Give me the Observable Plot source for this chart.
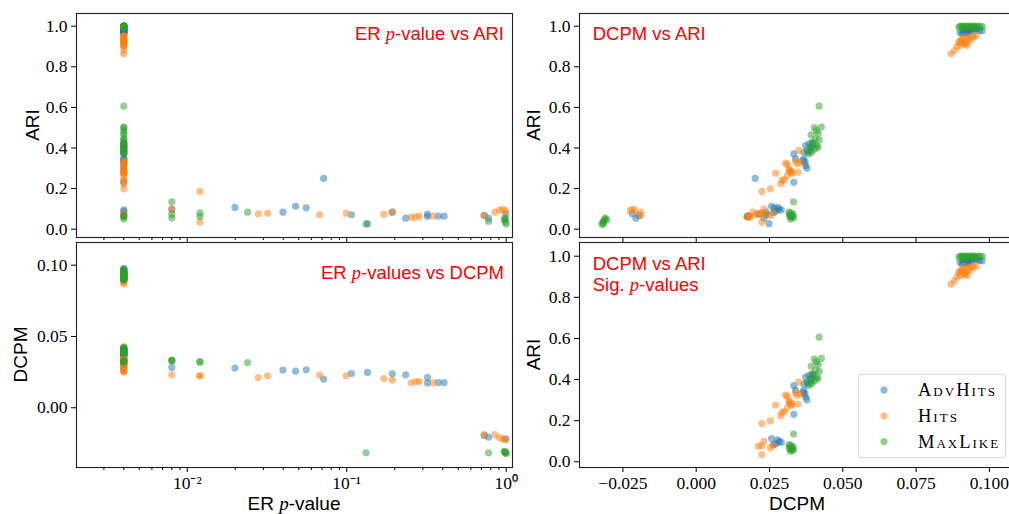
<!DOCTYPE html>
<html><head><meta charset="utf-8">
<script src="https://cdn.jsdelivr.net/npm/d3@7"></script>
<script src="https://cdn.jsdelivr.net/npm/@observablehq/plot@0.6"></script>
<style>
html,body{margin:0;padding:0;background:#fff;overflow:hidden;}
#fig{position:relative;width:1009px;height:514px;overflow:hidden;background:#fff;}
.panel{position:absolute;}
</style></head><body><div id="fig"></div>
<script>
const methods = ["AdvHits", "Hits", "MaxLike"];
const methodColors = ["#1f77b4", "#ff7f0e", "#2ca02c"];

// AdvHits
const advP = [0.004,0.004,0.004,0.004,0.004,0.004,0.004,0.004,0.004,0.004,0.004,0.004,0.004,0.004,0.004,0.004,0.004,
  0.004,0.004,0.004,0.004,0.004,0.004,0.004,0.004,0.004,0.004,0.004,0.004,0.004,0.004,0.004,0.004,
  0.008,0.0199,0.0398,0.0478,0.0557,0.0716,0.107,0.135,0.193,0.234,0.321,0.321,0.375,0.408,0.73,0.775,0.995];
const advDCPM = [0.0290,0.0272,
  0.0333,0.0333,0.0339,0.0367,0.0364,0.0373,0.0378,0.0371,0.0367,0.0390,0.0373,0.0385,0.0396,0.0381,0.0392,
  0.0900,0.0906,0.0911,0.0914,0.0921,0.0926,0.0929,0.0936,0.0941,0.0944,0.0952,0.0957,0.0966,0.0975,0.0928,0.0938,
  0.0283,0.0278,0.0264,0.0257,0.0266,0.0201,0.0240,0.0248,0.0238,0.0231,0.0212,0.0173,0.0177,0.0177,-0.0195,-0.0206,-0.0218];
const advARI = [0.095,0.088,
  0.231,0.371,0.347,0.347,0.338,0.314,0.300,0.330,0.379,0.388,0.412,0.420,0.424,0.380,0.402,
  0.970,0.964,0.975,0.968,0.972,0.981,0.975,0.985,0.978,0.990,0.982,0.986,0.979,0.977,0.962,0.994,
  0.098,0.107,0.084,0.113,0.105,0.250,0.071,0.027,0.084,0.054,0.074,0.062,0.064,0.064,0.068,0.054,0.076];

// Hits
const hitsP = [0.004,0.004,0.004,0.004,0.004,0.004,0.004,0.004,0.004,0.004,0.004,0.004,0.004,0.004,0.004,0.004,0.004,0.004,0.004,
  0.004,0.004,0.004,0.004,0.004,0.004,0.004,0.004,0.004,0.004,0.004,0.004,0.004,0.004,0.004,0.004,0.004,0.004,0.004,
  0.008,0.012,0.012,0.0279,0.0319,0.0676,0.0993,0.171,0.193,0.254,0.271,0.285,0.347,0.724,0.849,0.908,0.953,0.99];
const hitsDCPM = [0.0253,0.0262,
  0.0253,0.0288,0.0300,0.0293,0.0311,0.0271,0.0327,0.0347,0.0316,0.0322,0.0305,0.0311,0.0345,0.0339,0.0356,0.0350,0.0318,0.0325,
  0.0869,0.0881,0.0890,0.0895,0.0901,0.0905,0.0907,0.0912,0.0918,0.0922,0.0924,0.0928,0.0935,0.0940,0.0946,0.0955,0.0915,0.0900,
  0.0231,0.0224,0.0224,0.0212,0.0224,0.0229,0.0224,0.0205,0.0194,0.0175,0.0184,0.0184,0.0175,-0.0189,-0.0189,-0.0210,-0.0218,-0.0225];
const hitsARI = [0.068,0.080,
  0.199,0.223,0.243,0.240,0.264,0.276,0.281,0.281,0.297,0.289,0.325,0.318,0.322,0.335,0.330,0.388,0.285,0.275,
  0.864,0.880,0.900,0.921,0.905,0.930,0.938,0.915,0.913,0.925,0.905,0.940,0.930,0.950,0.946,0.954,0.950,0.925,
  0.100,0.186,0.035,0.076,0.079,0.071,0.079,0.074,0.084,0.059,0.059,0.064,0.064,0.067,0.084,0.094,0.098,0.090];

// MaxLike
const mlP = [0.004,0.004,0.004,0.004,0.004,0.004,0.004,0.004,0.004,0.004,0.004,0.004,0.004,0.004,0.004,0.004,0.004,0.004,0.004,0.004,
  0.004,0.004,0.004,0.004,0.004,0.004,0.004,0.004,0.004,0.004,0.004,0.004,0.004,0.004,0.004,0.004,0.004,0.004,0.004,
  0.008,0.008,0.008,0.012,0.012,0.0239,0.132,0.775,0.97,0.98,0.99,0.995,1.0];
const mlDCPM = [0.0318,0.0325,0.0322,0.0330,
  0.0419,0.0403,0.0427,0.0410,0.0392,0.0416,0.0407,0.0396,0.0401,0.0412,0.0415,0.0390,0.0378,0.0384,0.0395,0.0405,0.0420,
  0.0896,0.0901,0.0907,0.0909,0.0916,0.0919,0.0924,0.0931,0.0934,0.0941,0.0946,0.0949,0.0956,0.0961,0.0968,0.0976,0.0912,0.0938,
  0.0332,0.0330,0.0332,0.0323,0.0320,0.0316,-0.0316,-0.0316,-0.0305,-0.0310,-0.0318,-0.0312,-0.0322];
const mlARI = [0.070,0.060,0.050,0.065,
  0.606,0.500,0.503,0.486,0.465,0.473,0.445,0.429,0.420,0.412,0.404,0.404,0.388,0.371,0.380,0.395,0.440,
  0.995,1.000,0.998,1.000,0.996,1.000,0.999,1.000,0.997,1.000,0.998,1.000,0.996,1.000,0.999,0.998,0.990,0.993,
  0.135,0.074,0.056,0.080,0.062,0.084,0.025,0.038,0.045,0.055,0.035,0.050,0.025];

// Ticks
const ariTicks = [0, 0.2, 0.4, 0.6, 0.8, 1.0];
const dcpmTicksY = [0, 0.05, 0.10];
const dcpmTicksX = [-0.025, 0, 0.025, 0.05, 0.075, 0.1];
const pMajorTicks = [0.01, 0.1, 1];
const pMinorTicks = [0.003,0.004,0.005,0.006,0.007,0.008,0.009,0.02,0.03,0.04,0.05,0.06,0.07,0.08,0.09,0.2,0.3,0.4,0.5,0.6,0.7,0.8,0.9];
const sigLevel = 0.05;

const rows = (name, P, D, A) => P.map((p, i) => ({method: name, p, dcpm: D[i], ari: A[i]}));
const data = [
  ...rows("AdvHits", advP, advDCPM, advARI),
  ...rows("Hits", hitsP, hitsDCPM, hitsARI),
  ...rows("MaxLike", mlP, mlDCPM, mlARI)
];
const sigData = data.filter(d => d.p < sigLevel);

const serif = "'Liberation Serif','Times New Roman',serif";
const sans = "'Liberation Sans',Arial,sans-serif";
const color = {domain: methods, range: methodColors};
const dotOpts = {fill: "method", r: 3.6, fillOpacity: 0.5};
const svgStyle = `background: transparent; overflow: visible; max-width: none; font-size: 17.5px; color: black;`;
const sup = {"-": "\u207B", "0": "\u2070", "1": "\u00B9", "2": "\u00B2", "3": "\u00B3"};
const logFmt = d => "10" + String(Math.round(Math.log10(d))).split("").map(c => sup[c]).join("");
const none = () => "";
const frame = () => Plot.frame({stroke: "#222", strokeWidth: 1.1});
const fig = document.getElementById("fig");

function place(svg, left, top) {
  d3.select(svg).selectAll("text").style("font-family", serif).style("font-size", "17.5px");
  const div = document.createElement("div");
  div.className = "panel";
  div.style.left = left + "px";
  div.style.top = top + "px";
  div.append(svg);
  fig.append(div);
}

function richText(svg, x, y, parts, o = {}) {
  const t = d3.select(svg).append("text")
    .attr("x", x).attr("y", y)
    .attr("text-anchor", o.anchor || "start")
    .attr("fill", o.fill || "black")
    .style("font-family", o.family || sans)
    .style("font-size", (o.size || 19) + "px");
  if (o.rotate) t.attr("transform", `rotate(${o.rotate},${x},${y})`);
  if (o.variant) t.style("font-variant", o.variant);
  if (o.spacing) t.style("letter-spacing", o.spacing);
  for (const [s, it] of parts) {
    const ts = t.append("tspan").text(s);
    if (it) ts.style("font-family", serif).style("font-style", "italic");
  }
}

const pDomain = [0.00202, 1.095];
const dcpmXDomain = [-0.0398, 0.1089];

// Top-left: ER p-value vs ARI
const tl = Plot.plot({
  width: 520, height: 250, marginLeft: 76, marginTop: 13, marginRight: 8, marginBottom: 13,
  x: {type: "log", domain: pDomain}, y: {domain: [-0.041, 1.0626]}, color, style: svgStyle,
  marks: [
    Plot.dot(data, {x: "p", y: "ari", ...dotOpts}),
    frame(),
    Plot.axisY({ticks: ariTicks, tickFormat: d3.format(".1f"), tickSize: 5, tickPadding: 4, label: null}),
    Plot.axisX({ticks: pMajorTicks, tickFormat: none, tickSize: 5, label: null}),
    Plot.axisX({ticks: pMinorTicks, tickFormat: none, tickSize: 3, label: null})
  ]
});
place(tl, 0, 0);
richText(tl, 39, 125, [["ARI", false]], {anchor: "middle", rotate: -90});
richText(tl, 504, 39.5, [["ER ", false], ["p", true], ["-value vs ARI", false]], {anchor: "end", fill: "#ff0000", size: 18.5});

// Bottom-left: ER p-values vs DCPM
const bl = Plot.plot({
  width: 520, height: 284, marginLeft: 76, marginTop: 12, marginRight: 8, marginBottom: 47,
  x: {type: "log", domain: pDomain}, y: {domain: [-0.0419, 0.1159]}, color, style: svgStyle,
  marks: [
    Plot.dot(data, {x: "p", y: "dcpm", ...dotOpts}),
    frame(),
    Plot.axisY({ticks: dcpmTicksY, tickFormat: d3.format(".2f"), tickSize: 5, tickPadding: 4, label: null}),
    Plot.axisX({ticks: pMajorTicks, tickFormat: logFmt, tickSize: 5, tickPadding: 4, label: null}),
    Plot.axisX({ticks: pMinorTicks, tickFormat: none, tickSize: 3, label: null})
  ]
});
place(bl, 0, 230);
richText(bl, 27, 124.5, [["DCPM", false]], {anchor: "middle", rotate: -90});
richText(bl, 294, 280, [["ER ", false], ["p", true], ["-value", false]], {anchor: "middle"});
richText(bl, 504, 49.3, [["ER ", false], ["p", true], ["-values vs DCPM", false]], {anchor: "end", fill: "#ff0000", size: 18.5});

// Top-right: DCPM vs ARI
const tr = Plot.plot({
  width: 520, height: 250, marginLeft: 79, marginTop: 13, marginRight: 5, marginBottom: 13,
  x: {domain: dcpmXDomain}, y: {domain: [-0.041, 1.0626]}, color, style: svgStyle,
  marks: [
    Plot.dot(data, {x: "dcpm", y: "ari", ...dotOpts}),
    frame(),
    Plot.axisY({ticks: ariTicks, tickFormat: d3.format(".1f"), tickSize: 5, tickPadding: 4, label: null}),
    Plot.axisX({ticks: dcpmTicksX, tickFormat: none, tickSize: 5, label: null})
  ]
});
place(tr, 500, 0);
richText(tr, 40, 125, [["ARI", false]], {anchor: "middle", rotate: -90});
richText(tr, 92.7, 40, [["DCPM vs ARI", false]], {fill: "#ff0000", size: 18.5});

// Bottom-right: DCPM vs ARI, significant p-values
const br = Plot.plot({
  width: 520, height: 284, marginLeft: 79, marginTop: 12, marginRight: 5, marginBottom: 47,
  x: {domain: dcpmXDomain}, y: {domain: [-0.0277, 1.0666]}, color, style: svgStyle,
  marks: [
    Plot.dot(sigData, {x: "dcpm", y: "ari", ...dotOpts}),
    frame(),
    Plot.axisY({ticks: ariTicks, tickFormat: d3.format(".1f"), tickSize: 5, tickPadding: 4, label: null}),
    Plot.axisX({ticks: dcpmTicksX, tickFormat: d3.format(".3f"), tickSize: 5, tickPadding: 4, label: null})
  ]
});
place(br, 500, 230);
richText(br, 40, 124.5, [["ARI", false]], {anchor: "middle", rotate: -90});
richText(br, 297, 280, [["DCPM", false]], {anchor: "middle"});
richText(br, 92.7, 40, [["DCPM vs ARI", false]], {fill: "#ff0000", size: 18.5});
richText(br, 92.7, 61, [["Sig. ", false], ["p", true], ["-values", false]], {fill: "#ff0000", size: 18.5});
// legend
{
  const g = d3.select(br).append("g");
  g.append("rect").attr("x", 358.7).attr("y", 144.3).attr("width", 147).attr("height", 83.4)
    .attr("rx", 3).attr("fill", "white").attr("fill-opacity", 0.8).attr("stroke", "#d6d6d6");
  methods.forEach((m, i) => {
    const cy = 160 + i * 25.8;
    g.append("circle").attr("cx", 384).attr("cy", cy).attr("r", 3.6)
      .attr("fill", methodColors[i]).attr("fill-opacity", 0.5);
    richText(br, 418, cy + 6, [[m, false]], {family: serif, size: 18.5, variant: "small-caps", spacing: "2px"});
  });
}
</script>
</body></html>
